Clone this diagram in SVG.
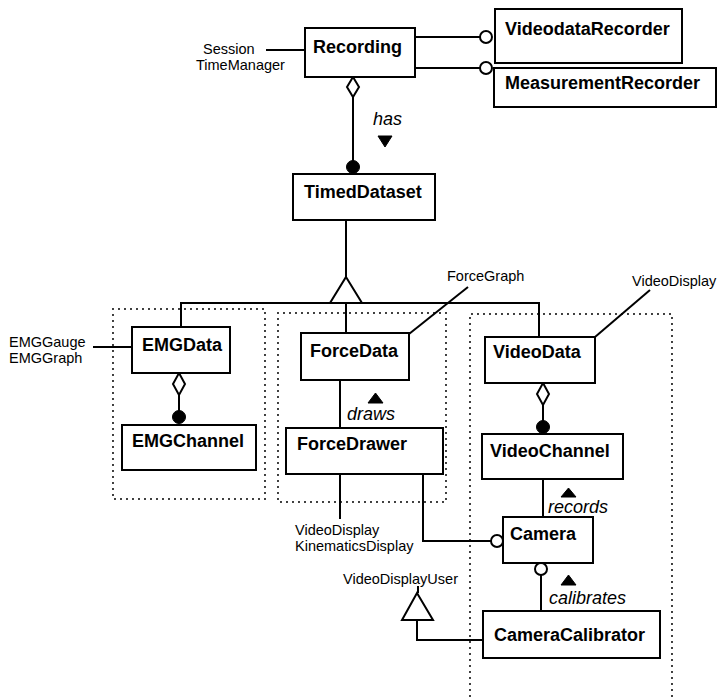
<svg xmlns="http://www.w3.org/2000/svg" width="719" height="700" viewBox="0 0 719 700">
<style>
.box{fill:#fff;stroke:#000;stroke-width:2}
.cn{font-family:"Liberation Sans",Arial,sans-serif;font-weight:bold;font-size:18px;fill:#000}
.lb{font-family:"Liberation Sans",Arial,sans-serif;font-size:14.5px;fill:#000}
.it{font-family:"Liberation Sans",Arial,sans-serif;font-style:italic;font-size:18px;fill:#000}
.ln{fill:none;stroke:#000;stroke-width:2}
.hol{fill:#fff;stroke:#000;stroke-width:2}
.fil{fill:#000;stroke:#000;stroke-width:1}
.dot{fill:none;stroke:#000;stroke-width:2;stroke-dasharray:0 6;stroke-linecap:round}
</style>
<rect width="719" height="700" fill="#fff"/>
<g id="regions">
<rect class="dot" x="113" y="309" width="152" height="190"/>
<rect class="dot" x="278" y="313" width="168" height="189"/>
<path class="dot" d="M470,720 V314 H672 V720"/>
</g>
<g id="connectors">
<line class="ln" x1="415" y1="37" x2="480" y2="37"/>
<circle class="hol" cx="486" cy="37" r="6"/>
<line class="ln" x1="415" y1="68" x2="480" y2="68"/>
<circle class="hol" cx="486" cy="68" r="6"/>
<line class="ln" x1="266" y1="50" x2="305" y2="50"/>
<line class="ln" x1="353" y1="97" x2="353" y2="161"/>
<polygon class="hol" points="353,77 359,87 353,97 347,87"/>
<circle class="fil" cx="353" cy="167" r="6.5"/>
<polygon class="fil" points="378,136 392,136 385,147"/>
<line class="ln" x1="346" y1="220" x2="346" y2="277"/>
<polyline class="ln" points="181,327 181,303 539,303 539,337"/>
<line class="ln" x1="346" y1="303" x2="346" y2="333"/>
<polygon class="hol" points="346,277 362,303 330,303"/>
<line class="ln" x1="468" y1="287" x2="409" y2="334"/>
<line class="ln" x1="650" y1="290" x2="595" y2="337"/>
<line class="ln" x1="93" y1="347" x2="132" y2="347"/>
<line class="ln" x1="179" y1="395" x2="179" y2="412"/>
<polygon class="hol" points="179,373 185,384 179,395 173,384"/>
<circle class="fil" cx="179" cy="417" r="6.5"/>
<line class="ln" x1="340" y1="380" x2="340" y2="428"/>
<polygon class="fil" points="368,403 383,403 375.5,393"/>
<line class="ln" x1="340" y1="474" x2="340" y2="519"/>
<polyline class="ln" points="423,474 423,541 491,541"/>
<circle class="hol" cx="497" cy="541" r="6"/>
<line class="ln" x1="543" y1="405" x2="543" y2="422"/>
<polygon class="hol" points="543,383 549,394 543,405 537,394"/>
<circle class="fil" cx="543" cy="427" r="6.5"/>
<line class="ln" x1="543" y1="479" x2="543" y2="517"/>
<polygon class="fil" points="561,497 576,497 568.5,488"/>
<line class="ln" x1="541" y1="575" x2="541" y2="611"/>
<circle class="hol" cx="541" cy="569" r="6"/>
<polygon class="fil" points="561,585 576,585 568.5,575"/>
<line class="ln" x1="418" y1="586" x2="418" y2="593"/>
<polyline class="ln" points="417,620 417,640 483,640"/>
<polygon class="hol" points="417,593 433,620 402,620"/>
</g>
<g id="labels">
<text class="lb" x="203" y="54">Session</text>
<text class="lb" x="196" y="70">TimeManager</text>
<text class="it" x="373" y="125">has</text>
<text class="lb" x="447" y="281">ForceGraph</text>
<text class="lb" x="632" y="286">VideoDisplay</text>
<text class="lb" x="9" y="347">EMGGauge</text>
<text class="lb" x="9" y="363">EMGGraph</text>
<text class="it" x="347" y="420">draws</text>
<text class="it" x="548" y="513">records</text>
<text class="lb" x="295" y="535">VideoDisplay</text>
<text class="lb" x="295" y="551">KinematicsDisplay</text>
<text class="lb" x="343" y="584">VideoDisplayUser</text>
<text class="it" x="549" y="604">calibrates</text>
</g>
<g id="Recording"><rect class="box" x="305" y="28" width="110" height="49"/><text class="cn" x="313" y="53">Recording</text></g>
<g id="VideodataRecorder"><rect class="box" x="495" y="9" width="187" height="54"/><text class="cn" x="505" y="35">VideodataRecorder</text></g>
<g id="MeasurementRecorder"><rect class="box" x="494" y="68" width="222" height="39"/><text class="cn" x="505" y="89">MeasurementRecorder</text></g>
<g id="TimedDataset"><rect class="box" x="293" y="174" width="142" height="46"/><text class="cn" x="304" y="198">TimedDataset</text></g>
<g id="EMGData"><rect class="box" x="132" y="327" width="98" height="46"/><text class="cn" x="142" y="351">EMGData</text></g>
<g id="EMGChannel"><rect class="box" x="122" y="425" width="134" height="45"/><text class="cn" x="132" y="447">EMGChannel</text></g>
<g id="ForceData"><rect class="box" x="301" y="333" width="108" height="47"/><text class="cn" x="310" y="357">ForceData</text></g>
<g id="ForceDrawer"><rect class="box" x="286" y="428" width="157" height="46"/><text class="cn" x="297" y="450">ForceDrawer</text></g>
<g id="VideoData"><rect class="box" x="485" y="337" width="110" height="46"/><text class="cn" x="493" y="358">VideoData</text></g>
<g id="VideoChannel"><rect class="box" x="482" y="434" width="141" height="45"/><text class="cn" x="490" y="457">VideoChannel</text></g>
<g id="Camera"><rect class="box" x="503" y="517" width="90" height="46"/><text class="cn" x="510" y="540">Camera</text></g>
<g id="CameraCalibrator"><rect class="box" x="483" y="611" width="177" height="47"/><text class="cn" x="494" y="641">CameraCalibrator</text></g>
</svg>
